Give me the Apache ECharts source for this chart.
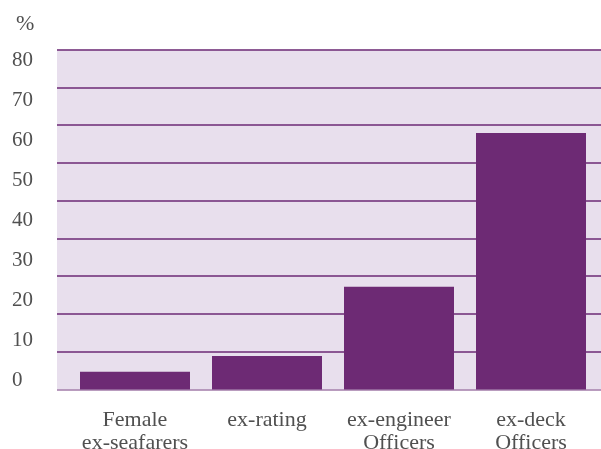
<!DOCTYPE html>
<html>
<head>
<meta charset="utf-8">
<script src="https://cdn.jsdelivr.net/npm/echarts@6/dist/echarts.min.js"></script>
<style>html,body{margin:0;padding:0;background:#fff}#c{width:601px;height:449px}</style>
</head>
<body>
<div id="c"></div>
<script>
const categories = ['Female\nex-seafarers', 'ex-rating', 'ex-engineer\nOfficers', 'ex-deck\nOfficers'];
const values = [4.7, 8.9, 27.2, 67.9];
const tickLabels = [0, 10, 20, 30, 40, 50, 60, 70, 80];
const unitLabel = '%';

const purple = '#6d2a74';
const font = 'Liberation Serif';
const textColor = '#505050';

const chart = echarts.init(document.getElementById('c'), null, {renderer: 'canvas'});
const gridLineColors = ['#a27ba8'].concat(new Array(9).fill(purple));

chart.setOption({
  animation: false,
  title: {
    text: unitLabel, left: 11, top: 8,
    textStyle: {fontFamily: font, fontSize: 22, fontWeight: 'normal', color: textColor}
  },
  grid: [
    {left: 57, right: 0, top: 49.5, bottom: 59.5, show: true, backgroundColor: '#e8dfed', borderWidth: 0, containLabel: false, outerBoundsMode: 'none'},
    {left: 69, right: 4, top: 49.5, bottom: 59.5, containLabel: false, outerBoundsMode: 'none'},
    {left: 57, right: 0, top: 60.7, bottom: 68.3, containLabel: false, outerBoundsMode: 'none'}
  ],
  xAxis: [
    {gridIndex: 0, type: 'category', data: categories, show: false},
    {gridIndex: 1, type: 'category', data: categories,
      axisLine: {show: false}, axisTick: {show: false},
      axisLabel: {interval: 0, margin: 19, fontFamily: font, fontSize: 22, lineHeight: 23, color: textColor}},
    {gridIndex: 2, type: 'category', data: categories, show: false}
  ],
  yAxis: [
    {gridIndex: 0, type: 'value', min: 0, max: 90, interval: 10,
      axisLine: {show: false}, axisTick: {show: false}, axisLabel: {show: false},
      splitLine: {show: true, lineStyle: {color: gridLineColors, width: 1.5}}},
    {gridIndex: 1, type: 'value', min: 0, max: 90, interval: 10, show: false},
    {gridIndex: 2, type: 'value', min: tickLabels[0], max: tickLabels[tickLabels.length - 1], interval: 10,
      axisLine: {show: false}, axisTick: {show: false}, splitLine: {show: false},
      axisLabel: {align: 'left', margin: 45, fontFamily: font, fontSize: 21, color: textColor}}
  ],
  series: [{
    type: 'bar', xAxisIndex: 1, yAxisIndex: 1,
    data: values, barWidth: 110,
    itemStyle: {color: purple}
  }]
});
</script>
</body>
</html>
